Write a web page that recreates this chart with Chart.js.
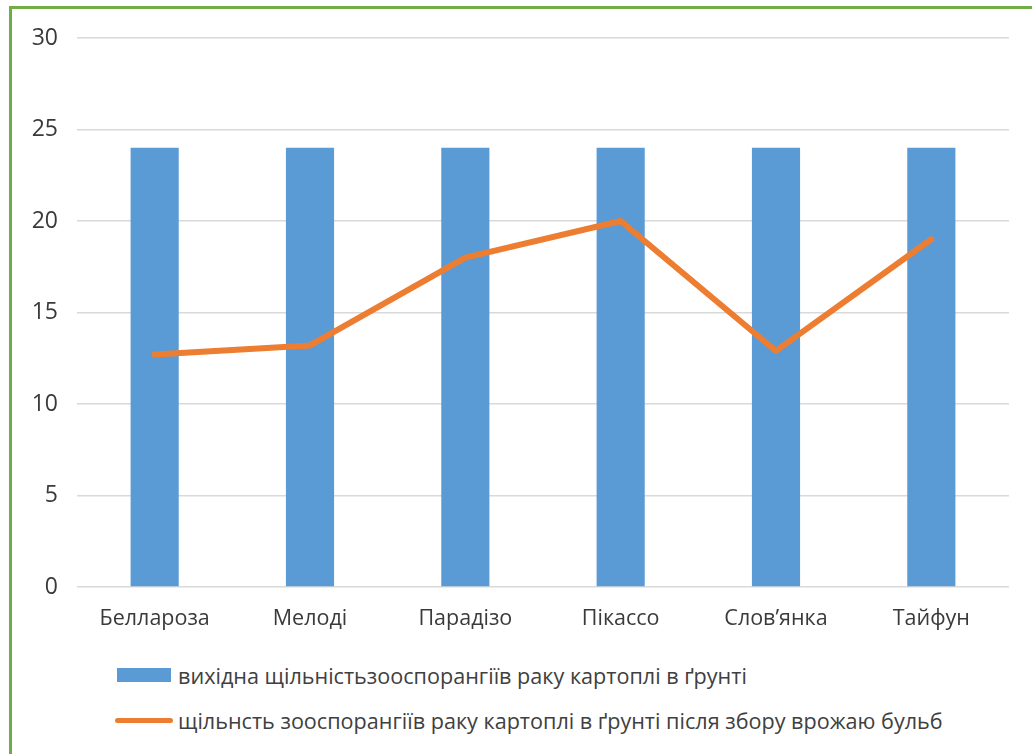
<!DOCTYPE html>
<html>
<head>
<meta charset="utf-8">
<script src="https://cdn.jsdelivr.net/npm/chart.js@4.4.1/dist/chart.umd.min.js"></script>
<style>
  html, body { margin: 0; padding: 0; background: #fff; overflow: hidden; }
  #wrap { position: absolute; left: 0; top: 0; width: 1032px; height: 640px; }
  #frame {
    position: absolute; left: 9px; top: 6px; width: 1100px; height: 900px;
    border: 3px solid #70AD47; pointer-events: none;
  }
  #legend {
    position: absolute; left: 0; top: 663px; width: 1032px;
    font-family: "Open Sans", sans-serif; font-size: 21.6px; color: #404040;
  }
  .item { position: absolute; left: 114px; height: 24px; display: flex; align-items: center; white-space: nowrap; }
  .swatch { width: 60px; display: flex; justify-content: center; margin-right: 4px; }
</style>
</head>
<body>
<div id="wrap"><canvas id="chart"></canvas></div>
<div id="legend"></div>
<div id="frame"></div>
<script>
// --- data ---
const varieties = ['Беллароза', 'Мелоді', 'Парадізо', 'Пікассо', 'Слов’янка', 'Тайфун'];
const initialDensity = [24, 24, 24, 24, 24, 24];
const afterHarvestDensity = [12.7, 13.2, 18, 20, 12.9, 19];
const yTicks = [0, 5, 10, 15, 20, 25, 30];

const barLabel = 'вихідна щільністьзооспорангіїв раку картоплі в ґрунті';
const lineLabel = 'щільнсть зооспорангіїв раку картоплі в ґрунті після збору врожаю бульб';

const BLUE = '#5B9BD5';
const ORANGE = '#ED7D31';
const TEXT = '#3a3a3a';
const FONT = '"Open Sans", sans-serif';

const ctx = document.getElementById('chart').getContext('2d');
const chart = new Chart(ctx, {
    data: {
        labels: varieties,
        datasets: [
            {
                type: 'line', label: lineLabel, data: afterHarvestDensity,
                borderColor: ORANGE, backgroundColor: ORANGE, borderWidth: 6,
                pointRadius: 0, tension: 0, borderCapStyle: 'round', borderJoinStyle: 'round',
                order: 0
            },
            {
                type: 'bar', label: barLabel, data: initialDensity,
                backgroundColor: BLUE, categoryPercentage: 1, barPercentage: 0.31,
                order: 1
            }
        ]
    },
    options: {
        responsive: true,
        maintainAspectRatio: false,
        animation: false,
        layout: { padding: { top: 38, right: 23, left: 0, bottom: 0 } },
        plugins: { legend: { display: false }, tooltip: { enabled: false } },
        scales: {
            x: {
                grid: { display: false, drawTicks: false },
                border: { display: false },
                ticks: { color: TEXT, font: { family: FONT, size: 21.5 }, padding: 19, maxRotation: 0 },
                afterFit: s => { s.height = 53; }
            },
            y: {
                min: 0, max: 30,
                afterBuildTicks: s => { s.ticks = yTicks.map(v => ({ value: v })); },
                grid: { color: '#d9d9d9', lineWidth: 1.5, drawTicks: false },
                border: { display: false },
                ticks: { color: TEXT, font: { family: FONT, size: 23 }, padding: 19 },
                afterFit: s => { s.width = 77; }
            }
        }
    }
});

// legend in two left-aligned rows, built from the datasets
const legend = document.getElementById('legend');
[chart.data.datasets[1], chart.data.datasets[0]].forEach((ds, i) => {
    const row = document.createElement('div');
    row.className = 'item';
    row.style.top = (i * 45) + 'px';
    const sw = document.createElement('span');
    sw.className = 'swatch';
    const mark = document.createElement('span');
    if (ds.type === 'bar') {
        mark.style.cssText = `width:54px;height:14px;background:${ds.backgroundColor}`;
    } else {
        mark.style.cssText = `width:58px;height:5px;border-radius:3px;background:${ds.borderColor}`;
    }
    sw.appendChild(mark);
    row.appendChild(sw);
    row.appendChild(document.createTextNode(ds.label));
    legend.appendChild(row);
});
</script>
</body>
</html>
